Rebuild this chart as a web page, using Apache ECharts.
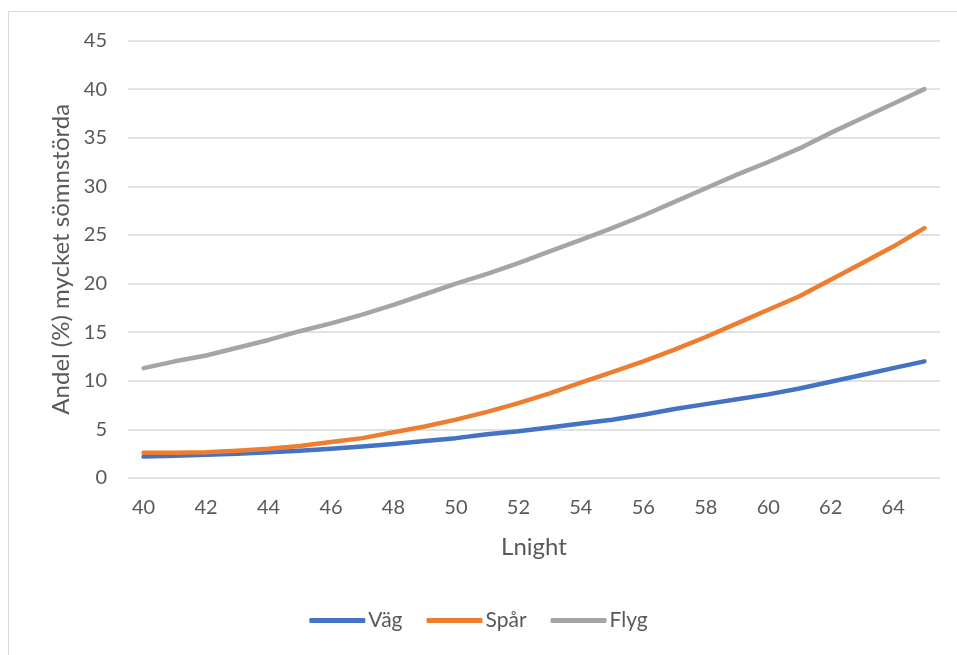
<!DOCTYPE html>
<html>
<head>
<meta charset="utf-8">
<script src="https://cdn.jsdelivr.net/npm/echarts@6/dist/echarts.min.js"></script>
<style>
html,body{margin:0;padding:0;background:#fff;}
#frame{position:absolute;left:8px;top:11px;width:2000px;height:2000px;border-left:1px solid #d9d9d9;border-top:1px solid #d9d9d9;}
#chart{position:absolute;left:0;top:0;width:957px;height:655px;}
</style>
</head>
<body>
<div id="frame"></div>
<div id="chart"></div>
<script>
const categories = ['40','41','42','43','44','45','46','47','48','49','50','51','52','53','54','55','56','57','58','59','60','61','62','63','64','65'];
const vag  = [2.2,2.3,2.4,2.5,2.65,2.8,3.0,3.25,3.5,3.8,4.1,4.5,4.8,5.2,5.6,6.0,6.5,7.1,7.6,8.1,8.6,9.2,9.9,10.6,11.3,12.0];
const spar = [2.6,2.6,2.65,2.8,3.0,3.3,3.7,4.1,4.7,5.3,6.0,6.8,7.7,8.7,9.8,10.9,12.0,13.2,14.5,15.9,17.3,18.7,20.4,22.1,23.8,25.7];
const flyg = [11.3,12.0,12.6,13.4,14.2,15.1,15.9,16.8,17.8,18.9,20.0,21.0,22.1,23.3,24.5,25.7,27.0,28.4,29.8,31.2,32.5,33.9,35.5,37.0,38.5,40.0];
const seriesNames = ['Väg','Spår','Flyg'];
const yTicks = {min:0, max:45, interval:5};

const font = 'Lato, "Open Sans", sans-serif';
const chart = echarts.init(document.getElementById('chart'), null, {renderer:'canvas'});
const mk = (name, data, color) => ({
  name, type:'line', data, showSymbol:false, symbol:'none', smooth:false,
  lineStyle:{width:4.5, color, cap:'round', join:'round'}, itemStyle:{color},
  emphasis:{disabled:true}
});
chart.setOption({
  backgroundColor:'transparent',
  animation:false,
  textStyle:{fontFamily:font},
  grid:{left:128, right:17, top:40.5, bottom:177, containLabel:false},
  xAxis:{
    type:'category', data:categories, boundaryGap:true,
    name:'Lnight', nameLocation:'middle', nameGap:57,
    nameTextStyle:{fontSize:24, color:'#595959', fontFamily:font},
    axisLine:{show:false}, axisTick:{show:false},
    axisLabel:{interval:1, fontSize:20, color:'#595959', margin:20, fontFamily:font}
  },
  yAxis:{
    type:'value', min:yTicks.min, max:yTicks.max, interval:yTicks.interval,
    name:'Andel (%) mycket sömnstörda', nameLocation:'middle', nameGap:53, nameRotate:90,
    nameTextStyle:{fontSize:24, color:'#595959', fontFamily:font},
    axisLine:{show:false}, axisTick:{show:false},
    axisLabel:{fontSize:20, color:'#595959', margin:21, fontFamily:font},
    splitLine:{lineStyle:{color:'#d9d9d9', width:1.5}}
  },
  legend:{
    data:seriesNames, bottom:19, left:'center',
    itemWidth:56, itemHeight:5, itemGap:24, icon:'roundRect',
    textStyle:{fontSize:21, color:'#595959', fontFamily:font, padding:[0,0,0,-2]}
  },
  series:[mk(seriesNames[0], vag, '#4472C4'), mk(seriesNames[1], spar, '#ED7D31'), mk(seriesNames[2], flyg, '#A5A5A5')]
});
</script>
</body>
</html>
